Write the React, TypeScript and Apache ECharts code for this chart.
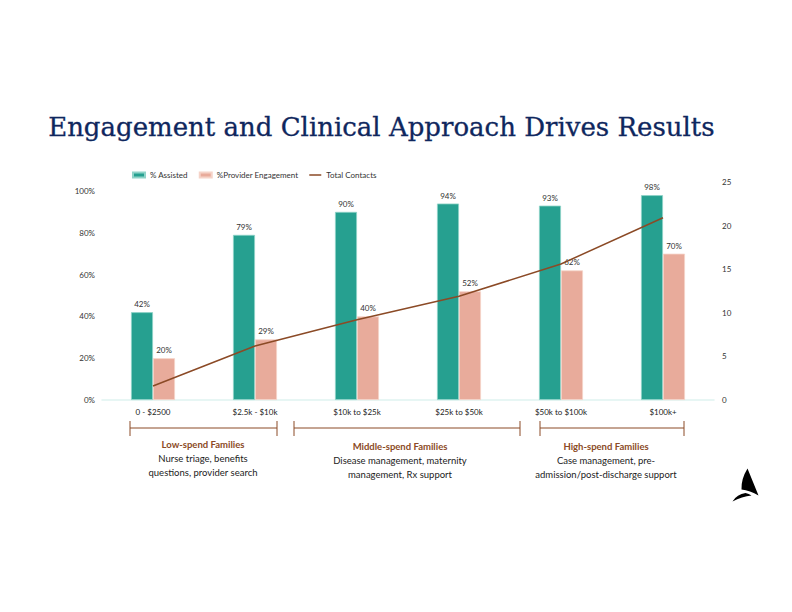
import React, { useEffect, useRef } from "react";
import * as echarts from "echarts";

const categories = ["0 - $2500", "$2.5k - $10k", "$10k to $25k", "$25k to $50k", "$50k to $100k", "$100k+"];
const assisted = [42, 79, 90, 94, 93, 98];
const providerEngagement = [20, 29, 40, 52, 62, 70];
const totalContacts = [1.6, 6.2, 9.2, 11.9, 15.6, 20.9];
const leftTicks = [0, 20, 40, 60, 80, 100];
const rightTicks = [0, 5, 10, 15, 20, 25];

const groups = [
  { title: "Low-spend Families", lines: ["Nurse triage, benefits", "questions, provider search"] },
  { title: "Middle-spend Families", lines: ["Disease management, maternity", "management, Rx support"] },
  { title: "High-spend Families", lines: ["Case management, pre-", "admission/post-discharge support"] },
];

const TEAL = "#26a090";
const SALMON = "#e8ab9b";
const BROWN = "#8b4a26";
const FONT = "Lato, 'Noto Sans', sans-serif";

echarts.graphic.registerShape(
  "logoTri",
  echarts.graphic.extendPath("M747.5 468.5 L758.5 495.5 Q750 490.5 741.5 489.5 Q741 479 747.5 468.5 Z", {})
);
echarts.graphic.registerShape(
  "logoLeaf",
  echarts.graphic.extendPath("M732.5 501.5 Q737 494 745.5 493 Q749 493.5 751.5 495.5 Q742 496.5 732.5 501.5 Z", {})
);

export default function App() {
  const ref = useRef<HTMLDivElement>(null);
  useEffect(() => {
    if (!ref.current) return;
    const chart = echarts.init(ref.current, null, { renderer: "svg" });
    const brackets = [
      { x1: 130, x2: 277, cx: 203 },
      { x1: 294, x2: 520, cx: 400 },
      { x1: 540, x2: 684, cx: 606 },
    ];
    const graphics: any[] = [
      {
        type: "text",
        left: 48,
        top: 114,
        style: {
          text: "Engagement and Clinical Approach Drives Results",
          font: "26px 'DejaVu Serif', serif",
          fill: "#0f275e",
          stroke: "#0f275e",
          lineWidth: 0.3,
        },
      },
      { type: "logoTri", style: { fill: "#000" } },
      { type: "logoLeaf", style: { fill: "#000" } },
    ];
    brackets.forEach((b, i) => {
      const s = { stroke: BROWN, lineWidth: 1 };
      graphics.push({ type: "line", shape: { x1: b.x1, y1: 428, x2: b.x2, y2: 428 }, style: s });
      graphics.push({ type: "line", shape: { x1: b.x1, y1: 421, x2: b.x1, y2: 436 }, style: s });
      graphics.push({ type: "line", shape: { x1: b.x2, y1: 421, x2: b.x2, y2: 436 }, style: s });
      const g = groups[i];
      const yOff = i === 0 ? 0 : 2;
      graphics.push({
        type: "text",
        x: b.cx,
        y: 444 + yOff,
        style: {
          text: g.title,
          fill: BROWN,
          font: `bold 9.5px ${FONT}`,
          align: "center",
          verticalAlign: "middle",
        },
      });
      g.lines.forEach((ln, j) => {
        graphics.push({
          type: "text",
          x: b.cx,
          y: 458 + yOff + j * 14,
          style: {
            text: ln,
            fill: "#222",
            font: `9.5px ${FONT}`,
            align: "center",
            verticalAlign: "middle",
          },
        });
      });
    });

    chart.setOption({
      animation: false,
      textStyle: { fontFamily: FONT },
      legend: {
        left: 127,
        top: 166,
        itemWidth: 12,
        itemHeight: 5,
        itemGap: 11,
        textStyle: { fontSize: 8, color: "#333", fontFamily: FONT },
        data: [
          { name: "% Assisted", icon: "rect" },
          { name: "%Provider Engagement", icon: "rect" },
          { name: "Total Contacts", icon: "path://M0,0L12,0L12,1.5L0,1.5Z", itemStyle: { color: BROWN } },
        ],
      },
      grid: { left: 102, right: 78, top: 182, bottom: 212 },
      xAxis: {
        type: "category",
        data: categories,
        axisLine: { lineStyle: { color: "#dff3f1", width: 1.5 } },
        axisTick: { show: false },
        axisLabel: { fontSize: 8, color: "#222", margin: 8, fontFamily: FONT },
      },
      yAxis: [
        {
          type: "value",
          min: 0,
          max: 104.3,
          interval: 20,
          splitLine: { show: false },
          axisLine: { show: false },
          axisTick: { show: false },
          axisLabel: {
            fontSize: 8,
            color: "#333",
            margin: 7,
            fontFamily: FONT,
            formatter: (v: number) => (leftTicks.indexOf(Math.round(v)) >= 0 && Math.abs(v - Math.round(v)) < 0.01 ? `${Math.round(v)}%` : ""),
          },
        },
        {
          type: "value",
          min: 0,
          max: 25,
          interval: 5,
          splitLine: { show: false },
          axisLine: { show: false },
          axisTick: { show: false },
          axisLabel: {
            fontSize: 8,
            color: "#333",
            margin: 8,
            fontFamily: FONT,
            formatter: (v: number) => (rightTicks.indexOf(v) >= 0 ? `${v}` : ""),
          },
        },
      ],
      series: [
        {
          name: "% Assisted",
          type: "bar",
          data: assisted,
          barWidth: 22,
          barGap: "0%",
          itemStyle: { color: TEAL, borderColor: "#8fd3c8", borderWidth: 0.8 },
          label: { show: true, position: "top", distance: 4, fontSize: 8, color: "#333", formatter: "{c}%" },
        },
        {
          name: "%Provider Engagement",
          type: "bar",
          data: providerEngagement,
          barWidth: 22,
          itemStyle: { color: SALMON, borderColor: "#f5d3c8", borderWidth: 0.8 },
          label: { show: true, position: "top", distance: 4, fontSize: 8, color: "#333", formatter: "{c}%" },
        },
        {
          name: "Total Contacts",
          type: "line",
          yAxisIndex: 1,
          data: totalContacts,
          symbol: "none",
          lineStyle: { color: BROWN, width: 1.5 },
          itemStyle: { color: BROWN },
          z: 5,
        },
      ],
      graphic: graphics,
    });
    return () => chart.dispose();
  }, []);
  return <div ref={ref} style={{ width: 792, height: 612, margin: -8 }} />;
}
